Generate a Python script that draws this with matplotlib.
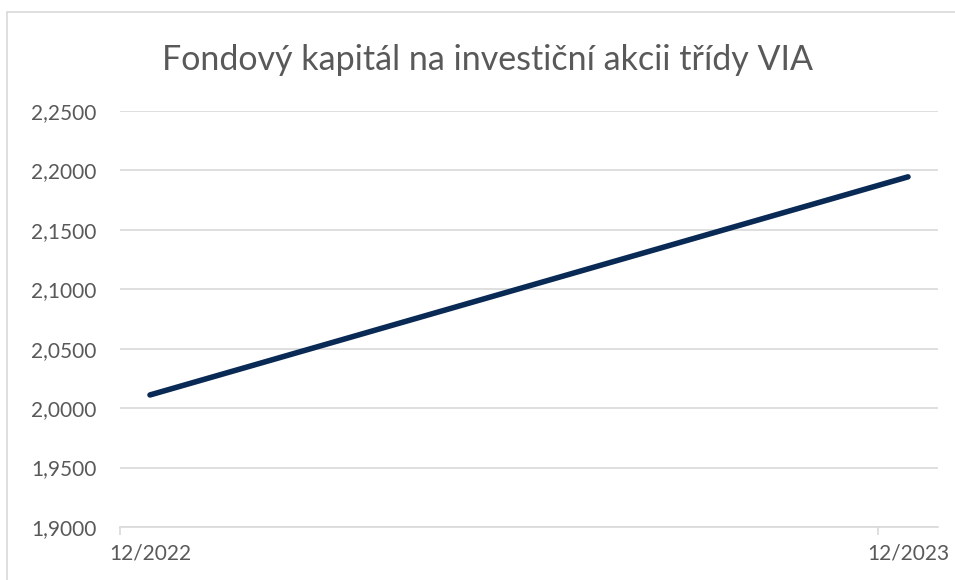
import matplotlib
matplotlib.use('Agg')
import matplotlib.pyplot as plt
from matplotlib.patches import Rectangle

plt.rcParams['font.family'] = ['Lato', 'DejaVu Sans']

# data
categories = ['12/2022', '12/2023']
values = [2.0111, 2.1946]
y_ticks = [1.90, 1.95, 2.00, 2.05, 2.10, 2.15, 2.20, 2.25]

text_col = '#595959'
grid_col = '#D9D9D9'
line_col = '#0A2A56'

W, H = 955, 580
fig = plt.figure(figsize=(W / 100, H / 100), dpi=100)

# chart frame
fig.patches.append(Rectangle((7 / W, -0.1), 1.0, (H - 12) / H + 0.1,
                             transform=fig.transFigure, fill=False,
                             edgecolor=grid_col, linewidth=1.2))

ax = fig.add_axes([120 / W, (H - 527) / H, (938 - 120) / W, (527 - 111) / H])

x = list(range(len(categories)))
ax.plot(x, values, color=line_col, linewidth=4.0, solid_capstyle='round')

pad = 30 / 758
ax.set_xlim(-pad, 1 + pad)
ax.set_ylim(1.90, 2.25)

ax.set_yticks(y_ticks)
ax.set_yticklabels([('%.4f' % v).replace('.', ',') for v in y_ticks])
ax.yaxis.grid(True, color=grid_col, linewidth=1.2)
ax.set_axisbelow(True)
ax.tick_params(axis='y', length=0, labelsize=15, labelcolor=text_col, pad=17)

# labels at the points, tick marks slightly to the left (as in the source)
ax.set_xticks(x)
ax.set_xticklabels(categories)
ax.tick_params(axis='x', length=0, labelsize=15, labelcolor=text_col, pad=12)
ax.set_xticks([-pad, 1 - pad], minor=True)
ax.tick_params(axis='x', which='minor', length=6, color=grid_col, width=1.2)

for s in ['top', 'right', 'left']:
    ax.spines[s].set_visible(False)
ax.spines['bottom'].set_color(grid_col)
ax.spines['bottom'].set_linewidth(1.2)

fig.text(487 / W, 1 - 60 / H, 'Fondový kapitál na investiční akcii třídy VIA',
         ha='center', va='center', fontsize=24.5, color=text_col)

fig.savefig('out.png', dpi=100)
